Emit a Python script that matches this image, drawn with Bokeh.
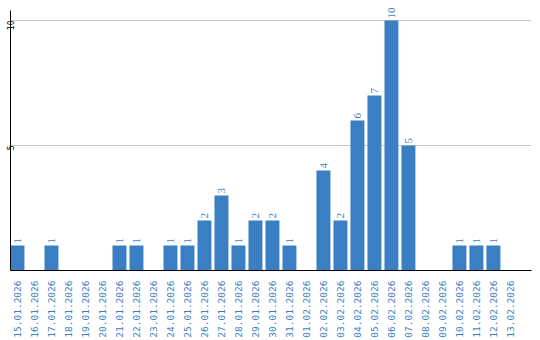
import math
from bokeh.plotting import figure
from bokeh.models import FixedTicker, ColumnDataSource, Range1d, LabelSet
from bokeh.embed import file_html
from bokeh.resources import INLINE

dates = ["15.01.2026", "16.01.2026", "17.01.2026", "18.01.2026", "19.01.2026",
         "20.01.2026", "21.01.2026", "22.01.2026", "23.01.2026", "24.01.2026",
         "25.01.2026", "26.01.2026", "27.01.2026", "28.01.2026", "29.01.2026",
         "30.01.2026", "31.01.2026", "01.02.2026", "02.02.2026", "03.02.2026",
         "04.02.2026", "05.02.2026", "06.02.2026", "07.02.2026", "08.02.2026",
         "09.02.2026", "10.02.2026", "11.02.2026", "12.02.2026", "13.02.2026"]
counts = [1, 0, 1, 0, 0, 0, 1, 1, 0, 1,
          1, 2, 3, 1, 2, 2, 1, 0, 4, 2,
          6, 7, 10, 5, 0, 0, 1, 1, 1, 0]
y_ticks = [5, 10]

BLUE = "#3a7ec3"
FONT = "DejaVu Sans Mono"

idx = list(range(len(dates)))
src = ColumnDataSource(dict(x=idx, top=counts))
lbl_idx = [i for i, c in zip(idx, counts) if c > 0]
lbl_val = [c for c in counts if c > 0]
lsrc = ColumnDataSource(dict(x=lbl_idx, y=lbl_val, t=[str(v) for v in lbl_val]))

p = figure(width=540, height=340, output_backend="svg", toolbar_location=None,
           x_range=Range1d(-0.41, 30.24), y_range=Range1d(0, 10.8),
           min_border_left=10, min_border_right=9, min_border_top=0,
           min_border_bottom=70)
p.outline_line_color = None
p.background_fill_color = "white"
p.border_fill_color = "white"

p.vbar(x="x", top="top", width=0.82, bottom=0, source=src,
       fill_color=BLUE, line_color=None)

labels = LabelSet(x="x", y="y", text="t", source=lsrc, angle=math.pi / 2,
                  text_align="left", text_baseline="middle", y_offset=2,
                  text_color=BLUE, text_font=FONT, text_font_size="11px")
p.add_layout(labels)

p.xgrid.visible = False
p.ygrid.ticker = FixedTicker(ticks=y_ticks)
p.ygrid.grid_line_color = "#c8c8c8"

xa = p.xaxis[0]
xa.ticker = FixedTicker(ticks=idx)
xa.major_label_overrides = {i: d for i, d in zip(idx, dates)}
xa.major_label_orientation = math.pi / 2
xa.major_label_text_color = BLUE
xa.major_label_text_font = FONT
xa.major_label_text_font_size = "9.5px"
xa.major_label_standoff = 4
xa.major_tick_line_color = None
xa.minor_tick_line_color = None
xa.axis_line_color = "black"

ya = p.yaxis[0]
ya.ticker = FixedTicker(ticks=y_ticks)
ya.bounds = (0, 10.4)
ya.major_label_orientation = math.pi / 2
ya.major_label_text_color = "black"
ya.major_label_text_font = FONT
ya.major_label_text_font_size = "8px"
ya.major_label_standoff = 0
ya.major_tick_out = 0
ya.major_tick_in = 0
ya.major_tick_line_color = None
ya.minor_tick_line_color = None
ya.axis_line_color = "black"

open("out.html", "w").write(file_html(p, INLINE))
